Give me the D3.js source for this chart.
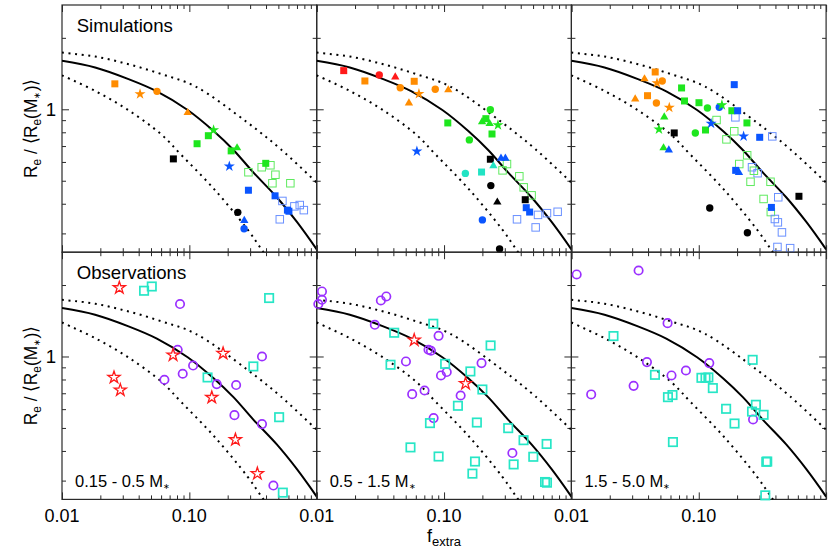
<!DOCTYPE html>
<html><head><meta charset="utf-8">
<script src="https://cdn.jsdelivr.net/npm/d3@7"></script>
<style>body{margin:0;background:#fff}svg{display:block;font-family:"Liberation Sans",Arial,Helvetica,sans-serif}</style>
</head><body><svg id="c" width="830" height="549"></svg>
<script>
// ---------------- data ----------------
const rowTitles = ["Simulations", "Observations"];
const massBins = ["0.15 - 0.5 M", "0.5 - 1.5 M", "1.5 - 5.0 M"];
const xMajorTicks = [0.01, 0.1, 1];
const xTickLabels = ["0.01", "0.10"];
const xMinorTicks = [0.02,0.03,0.04,0.05,0.06,0.07,0.08,0.09,0.2,0.3,0.4,0.5,0.6,0.7,0.8,0.9];
const yMajorTicks = [1];
const yTickLabels = ["1"];
const yMinorTicks = [0.3,0.4,0.5,0.6,0.7,0.8,0.9,2];

// model curves
const solidF = [0.01,0.0182,0.0333,0.0556,0.097,0.155,0.222,0.318,0.486,0.697,1.0];
const solidR = [1.60,1.50,1.34,1.19,0.993,0.81,0.674,0.542,0.426,0.336,0.257];
const upperF = [0.01,0.0182,0.0333,0.0608,0.111,0.286,0.523,1.0];
const upperR = [1.733,1.668,1.548,1.405,1.25,0.879,0.678,0.491];
const lowerF = [0.01,0.0182,0.0333,0.0608,0.0858,0.157,0.286,0.376,0.45];
const lowerR = [1.39,1.195,0.99,0.78,0.645,0.46,0.312,0.253,0.222];

// simulations: [suite, shape, f_extra, R]
const simLow = [
 ["greenOpen","square",0.291,0.543],["greenOpen","square",0.370,0.570],["greenOpen","square",0.433,0.581],
 ["greenOpen","square",0.474,0.530],["greenOpen","square",0.449,0.488],["greenOpen","square",0.621,0.488],
 ["blueOpen","square",0.538,0.411],["blueOpen","square",0.668,0.390],["blueOpen","square",0.736,0.395],
 ["blueOpen","square",0.792,0.376],["blueOpen","square",0.513,0.344],
 ["orange","square",0.026,1.28],["orange","star",0.041,1.16],["orange","circle",0.0557,1.19],
 ["orange","triangle",0.097,0.977],["green","star",0.155,0.818],["green","square",0.141,0.774],
 ["green","square",0.115,0.716],["green","triangle",0.237,0.694],["green","square",0.213,0.668],
 ["black","square",0.0749,0.618],["blue","star",0.206,0.575],["green","square",0.398,0.592],
 ["blue","square",0.291,0.456],["blue","square",0.471,0.432],["blue","square",0.589,0.376],
 ["blue","square",0.605,0.372],["black","circle",0.240,0.368],["blue","triangle",0.270,0.343],
 ["blue","circle",0.269,0.314]
];
const simMid = [
 ["greenOpen","square",0.312,0.588],["greenOpen","square",0.288,0.553],["greenOpen","square",0.390,0.522],
 ["greenOpen","square",0.422,0.469],["greenOpen","square",0.487,0.434],
 ["blueOpen","square",0.547,0.359],["blueOpen","square",0.643,0.365],["blueOpen","square",0.780,0.370],
 ["blueOpen","square",0.374,0.344],["blueOpen","square",0.524,0.318],
 ["red","square",0.0163,1.455],["orange","square",0.0239,1.316],["red","circle",0.031,1.395],
 ["red","triangle",0.0414,1.381],["orange","square",0.0583,1.312],["orange","circle",0.0453,1.233],
 ["orange","star",0.0635,1.163],["orange","triangle",0.053,1.073],["orange","circle",0.0853,1.214],
 ["orange","triangle",0.108,1.218],["green","circle",0.231,0.996],["green","triangle",0.199,0.895],
 ["green","square",0.213,0.913],["green","triangle",0.228,0.878],["green","star",0.265,0.859],
 ["green","square",0.238,0.787],["green","square",0.107,0.876],["green","circle",0.158,0.743],
 ["blue","star",0.0612,0.665],["black","square",0.231,0.616],["blue","triangle",0.280,0.628],
 ["blue","triangle",0.303,0.628],["cyan","triangle",0.244,0.584],["cyan","circle",0.147,0.537],
 ["cyan","square",0.197,0.544],["black","circle",0.233,0.477],["black","triangle",0.262,0.410],
 ["black","square",0.434,0.416],["blue","square",0.442,0.385],["blue","square",0.470,0.369],
 ["blue","circle",0.200,0.342],["black","circle",0.273,0.258]
];
const simHigh = [
 ["blueOpen","square",0.194,0.925],["greenOpen","square",0.138,0.901],["greenOpen","square",0.19,0.808],
 ["greenOpen","square",0.165,0.747],["blueOpen","square",0.378,0.769],["greenOpen","square",0.240,0.640],
 ["greenOpen","square",0.208,0.588],["blueOpen","square",0.262,0.570],["blueOpen","square",0.290,0.538],
 ["greenOpen","square",0.271,0.551],["greenOpen","square",0.255,0.495],["greenOpen","square",0.366,0.495],
 ["blueOpen","square",0.421,0.426],["greenOpen","square",0.323,0.419],["greenOpen","square",0.368,0.369],
 ["blueOpen","square",0.396,0.345],["blueOpen","square",0.418,0.334],["blueOpen","square",0.450,0.303],
 ["blueOpen","square",0.415,0.263],["blueOpen","square",0.522,0.260],
 ["orange","square",0.0455,1.436],["orange","triangle",0.0375,1.355],["orange","star",0.047,1.291],
 ["orange","circle",0.0517,1.316],["orange","triangle",0.0317,1.116],["orange","square",0.0396,1.141],
 ["orange","circle",0.0465,1.063],["orange","star",0.0587,1.016],["green","square",0.0733,1.23],
 ["green","square",0.0773,1.084],["green","square",0.1004,1.066],["green","circle",0.117,1.013],
 ["blue","circle",0.145,1.02],["green","star",0.152,1.043],["blue","square",0.190,1.27],
 ["green","square",0.182,0.986],["blue","square",0.202,0.986],["green","square",0.239,0.876],
 ["green","triangle",0.0536,0.937],["green","star",0.0487,0.824],["black","square",0.0642,0.795],
 ["green","circle",0.094,0.795],["green","square",0.113,0.818],["blue","star",0.125,0.870],
 ["blue","star",0.225,0.769],["blue","square",0.301,0.762],["green","triangle",0.0529,0.694],
 ["blue","triangle",0.0582,0.680],["blue","square",0.195,0.553],["blue","triangle",0.207,0.546],
 ["black","square",0.612,0.430],["blue","square",0.372,0.386],["black","circle",0.122,0.384],
 ["black","circle",0.241,0.302]
];

// observations: [f_extra, R]
const obsLowCircles = [[0.0845,1.663],[0.081,1.067],[0.372,1.0],[0.107,0.916],[0.0887,0.846],[0.0637,0.798],
 [0.164,0.765],[0.233,0.758],[0.226,0.566],[0.372,0.519],[0.457,0.286]];
const obsLowSquares = [[0.0441,1.892],[0.0507,1.972],[0.423,1.763],[0.318,0.908],[0.139,0.816],[0.507,0.555],[0.542,0.267]];
const obsLowStars = [[0.0282,1.948],[0.0256,0.816],[0.0287,0.722],[0.0745,1.014],[0.184,1.03],[0.150,0.672],[0.230,0.446],[0.342,0.321]];
const obsMidCircles = [[0.011,1.879],[0.011,1.733],[0.0103,1.663],[0.0319,1.722],[0.0352,1.790],[0.0286,1.360],
 [0.0906,1.222],[0.0755,1.067],[0.0789,1.057],[0.0502,0.953],[0.105,0.860],[0.0946,0.832],[0.197,0.938],
 [0.0703,0.719],[0.0562,0.694],[0.135,0.685],[0.0828,0.550],[0.344,0.392]];
const obsMidSquares = [[0.0823,1.374],[0.0406,1.259],[0.232,1.113],[0.038,0.923],[0.102,0.931],[0.161,0.865],
 [0.2,0.726],[0.1285,0.620],[0.0775,0.524],[0.181,0.527],[0.319,0.499],[0.421,0.444],[0.639,0.428],
 [0.0545,0.414],[0.0906,0.379],[0.502,0.378],[0.175,0.361],[0.352,0.351],[0.167,0.321],[0.621,0.296],[0.643,0.294]];
const obsMidStars = [[0.0583,1.172],[0.1475,0.769]];
const obsHighCircles = [[0.011,2.216],[0.0337,2.303],[0.0569,1.382],[0.0392,0.947],[0.121,0.938],[0.0793,0.873],
 [0.0611,0.832],[0.0308,0.752],[0.0143,0.692],[0.267,0.543]];
const obsHighSquares = [[0.0214,1.219],[0.265,0.968],[0.0453,0.837],[0.105,0.813],[0.113,0.813],[0.119,0.816],
 [0.129,0.736],[0.0573,0.674],[0.0622,0.688],[0.164,0.602],[0.281,0.626],[0.262,0.586],[0.323,0.568],
 [0.191,0.522],[0.0627,0.436],[0.339,0.360],[0.345,0.361],[0.333,0.260]];
const obsHighStars = [];

// ---------------- styles ----------------
const suiteColor = {orange:"#ff8c00", red:"#ff1a1a", green:"#1ee61e", blue:"#0a55ff", black:"#000000",
  cyan:"#22e3c4", greenOpen:"#5fea5f", blueOpen:"#6a90ff"};
const obsColor = {circles:"#9b30ff", squares:"#27e6c6", stars:"#ff1a1a"};

// ---------------- layout ----------------
const svg = d3.select("#c");
const L = 62, PW = 254.7, T = 5, PH = 247.2;
const fDomain = [0.01, 1], rDomain = [0.25, 2.75];
const axisColor = "#2a2a2a";

const simData = [simLow, simMid, simHigh];
const obsData = [
  {circles: obsLowCircles, squares: obsLowSquares, stars: obsLowStars},
  {circles: obsMidCircles, squares: obsMidSquares, stars: obsMidStars},
  {circles: obsHighCircles, squares: obsHighSquares, stars: obsHighStars}
];

const defs = svg.append("defs");

function drawSim(g, d, x, y) {
  const [suite, shape, f, r] = d;
  const cx = x(f), cy = y(r), col = suiteColor[suite];
  const open = suite.endsWith("Open");
  if (shape === "square") {
    const s = open ? 7.5 : 7;
    g.append("rect").attr("x", cx - s/2).attr("y", cy - s/2).attr("width", s).attr("height", s)
      .attr("fill", open ? "none" : col).attr("stroke", col).attr("stroke-width", open ? 1 : 0);
  } else if (shape === "circle") {
    g.append("circle").attr("cx", cx).attr("cy", cy).attr("r", 3.7).attr("fill", col);
  } else if (shape === "triangle") {
    g.append("path").attr("d", d3.symbol(d3.symbolTriangle, 30)()).attr("transform", `translate(${cx},${cy + 1})`).attr("fill", col);
  } else if (shape === "star") {
    g.append("path").attr("d", d3.symbol(d3.symbolStar, 38)()).attr("transform", `translate(${cx},${cy})`).attr("fill", col);
  }
}

for (let row = 0; row < 2; row++) {
  const y0 = T + row * PH;
  const y = d3.scaleLog().domain(rDomain).range([y0 + PH, y0]);
  for (let p = 0; p < 3; p++) {
    const x0 = L + p * PW;
    const x = d3.scaleLog().domain(fDomain).range([x0, x0 + PW]);
    const g = svg.append("g");
    const clipId = `clip${row}${p}`;
    defs.append("clipPath").attr("id", clipId).append("rect")
      .attr("x", x0).attr("y", y0).attr("width", PW).attr("height", PH);

    // axes (ticks inward)
    const mk = (axis, vals, size) => axis.tickValues(vals).tickSize(size).tickFormat("");
    const axes = [
      [mk(d3.axisBottom(x), xMajorTicks, -7), `translate(0,${y0 + PH})`],
      [mk(d3.axisBottom(x), xMinorTicks, -4), `translate(0,${y0 + PH})`],
      [mk(d3.axisTop(x), xMajorTicks, -7), `translate(0,${y0})`],
      [mk(d3.axisTop(x), xMinorTicks, -4), `translate(0,${y0})`],
      [mk(d3.axisLeft(y), yMajorTicks, -7), `translate(${x0},0)`],
      [mk(d3.axisLeft(y), yMinorTicks, -4), `translate(${x0},0)`],
      [mk(d3.axisRight(y), yMajorTicks, -7), `translate(${x0 + PW},0)`],
      [mk(d3.axisRight(y), yMinorTicks, -4), `translate(${x0 + PW},0)`]
    ];
    axes.forEach(([ax, tr]) => {
      const a = g.append("g").attr("transform", tr).call(ax);
      a.select(".domain").remove();
      a.selectAll("line").attr("stroke", axisColor).attr("stroke-width", 1);
    });
    g.append("rect").attr("x", x0).attr("y", y0).attr("width", PW).attr("height", PH)
      .attr("fill", "none").attr("stroke", axisColor).attr("stroke-width", 1.2);

    // model curves
    const cg = g.append("g").attr("clip-path", `url(#${clipId})`);
    const line = d3.line().x(d => x(d[0])).y(d => y(d[1])).curve(d3.curveCatmullRom.alpha(0.5));
    cg.append("path").attr("d", line(solidF.map((f, i) => [f, solidR[i]])))
      .attr("fill", "none").attr("stroke", "#000").attr("stroke-width", 2);
    [[upperF, upperR], [lowerF, lowerR]].forEach(([fs, rs]) => {
      cg.append("path").attr("d", line(fs.map((f, i) => [f, rs[i]])))
        .attr("fill", "none").attr("stroke", "#000").attr("stroke-width", 2)
        .attr("stroke-dasharray", "2,4.6");
    });

    // markers
    if (row === 0) {
      simData[p].forEach(d => drawSim(g, d, x, y));
    } else {
      const od = obsData[p];
      od.circles.forEach(([f, r]) => g.append("circle").attr("cx", x(f)).attr("cy", y(r)).attr("r", 4.2)
        .attr("fill", "none").attr("stroke", obsColor.circles).attr("stroke-width", 1.7));
      od.squares.forEach(([f, r]) => g.append("rect").attr("x", x(f) - 4.2).attr("y", y(r) - 4.2)
        .attr("width", 8.4).attr("height", 8.4).attr("fill", "none")
        .attr("stroke", obsColor.squares).attr("stroke-width", 1.7));
      od.stars.forEach(([f, r]) => g.append("path").attr("d", d3.symbol(d3.symbolStar, 46)())
        .attr("transform", `translate(${x(f)},${y(r)})`).attr("fill", "#fff")
        .attr("stroke", obsColor.stars).attr("stroke-width", 1.3).attr("stroke-linejoin", "miter"));
    }

    // labels
    if (p === 0) {
      g.append("text").attr("x", x0 + 14.7).attr("y", y0 + 26.7).attr("font-size", 18.6)
        .attr("fill", "#000").text(rowTitles[row]);
      g.append("text").attr("x", x0 - 6).attr("y", y(1) + 6.5).attr("text-anchor", "end")
        .attr("font-size", 18.6).text(yTickLabels[0]);
    }
    if (row === 1) {
      const t = g.append("text").attr("x", x0 + 13).attr("y", y0 + PH - 12).attr("font-size", 16.5).attr("fill", "#000");
      t.append("tspan").text(massBins[p]);
      t.append("tspan").attr("font-size", 8).attr("dy", 2).text("∗");
      xTickLabels.forEach((lab, i) => {
        g.append("text").attr("x", x(xMajorTicks[i])).attr("y", 521.5).attr("text-anchor", "middle")
          .attr("font-size", 18).text(lab);
      });
    }
  }
}

// y titles
for (let row = 0; row < 2; row++) {
  const cy = T + row * PH + PH / 2;
  const t = svg.append("text").attr("transform", `translate(37,${cy}) rotate(-90)`)
    .attr("text-anchor", "middle").attr("font-size", 19).attr("fill", "#000")
    .attr("textLength", 99).attr("lengthAdjust", "spacingAndGlyphs");
  t.append("tspan").text("R");
  t.append("tspan").attr("font-size", 13).attr("dy", 4).text("e");
  t.append("tspan").attr("dy", -4).text(" / \u27E8R");
  t.append("tspan").attr("font-size", 13).attr("dy", 4).text("e");
  t.append("tspan").attr("dy", -4).text("(M");
  t.append("tspan").attr("font-size", 9).attr("dy", 3).text("∗");
  t.append("tspan").attr("dy", -3).text(")\u27E9");
}

// x title
const xt = svg.append("text").attr("x", L + 1.5 * PW).attr("y", 541.5).attr("text-anchor", "middle")
  .attr("font-size", 18).attr("fill", "#000");
xt.append("tspan").text("f");
xt.append("tspan").attr("font-size", 13).attr("dy", 4).text("extra");
</script></body></html>
